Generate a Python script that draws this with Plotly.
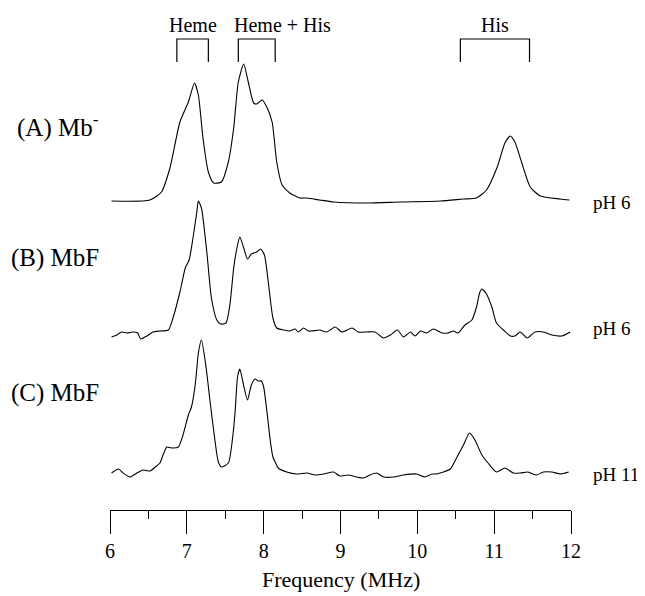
import plotly.graph_objects as go

# ---------------- data (frequency in MHz, intensity in arbitrary units) ----------------
freq_a = [6.02, 6.52, 6.67, 6.78, 6.91, 7.02, 7.10, 7.15, 7.21, 7.28, 7.35, 7.45, 7.54, 7.61,
          7.67, 7.74, 7.80, 7.87, 7.91, 7.98, 8.04, 8.11, 8.17, 8.24, 8.34, 8.47, 8.56, 8.73,
          8.91, 9.34, 9.78, 10.30, 10.60, 10.77, 10.90, 11.04, 11.14, 11.21, 11.27, 11.36,
          11.47, 11.60, 11.86, 11.98]
int_a = [0.00, 0.01, 0.09, 0.33, 0.79, 0.99, 1.18, 1.06, 0.63, 0.29, 0.18, 0.19, 0.39, 0.73,
         1.19, 1.37, 1.19, 0.98, 0.97, 1.01, 0.94, 0.79, 0.39, 0.16, 0.08, 0.03, 0.03, 0.01,
         -0.01, -0.02, -0.01, 0.00, 0.02, 0.03, 0.11, 0.34, 0.58, 0.65, 0.59, 0.38,
         0.14, 0.05, 0.02, 0.01]

freq_b = [6.02, 6.09, 6.15, 6.22, 6.30, 6.36, 6.40, 6.48, 6.56, 6.65, 6.76, 6.82, 6.91, 6.98,
          7.03, 7.08, 7.13, 7.15, 7.19, 7.26, 7.32, 7.39, 7.44, 7.51, 7.56, 7.61, 7.66, 7.69,
          7.74, 7.79, 7.84, 7.91, 7.96, 8.01, 8.06, 8.12, 8.17, 8.26, 8.34, 8.41, 8.45, 8.52,
          8.58, 8.63, 8.73, 8.82, 8.93, 9.02, 9.15, 9.23, 9.34, 9.45, 9.56, 9.65, 9.74, 9.82,
          9.91, 9.97, 10.04, 10.12, 10.21, 10.32, 10.40, 10.47, 10.53, 10.62, 10.71, 10.77,
          10.81, 10.84, 10.87, 10.90, 10.97, 11.03, 11.12, 11.21, 11.27, 11.34, 11.43, 11.53,
          11.64, 11.75, 11.88, 11.99]
int_b = [-0.04, -0.02, 0.01, 0.00, 0.01, 0.00, -0.06, -0.03, 0.01, 0.02, 0.03, 0.15, 0.41, 0.65,
         0.73, 0.95, 1.21, 1.32, 1.25, 0.81, 0.35, 0.13, 0.09, 0.10, 0.28, 0.65, 0.88, 0.96,
         0.85, 0.74, 0.79, 0.81, 0.84, 0.78, 0.51, 0.15, 0.05, 0.03, 0.02, 0.04, 0.01, 0.05,
         0.02, 0.02, 0.03, 0.01, 0.06, 0.01, 0.05, 0.01, 0.01, 0.01, -0.05, -0.02, 0.03, -0.04,
         0.01, -0.03, 0.02, 0.00, 0.04, 0.00, 0.00, 0.02, 0.00, 0.08, 0.13, 0.26,
         0.40, 0.44, 0.42, 0.39, 0.26, 0.10, 0.03, -0.03, -0.03, 0.01, -0.05, 0.01,
         0.01, -0.02, -0.03, 0.01]

freq_c = [6.02, 6.11, 6.17, 6.26, 6.35, 6.43, 6.52, 6.59, 6.65, 6.69, 6.74, 6.80, 6.89, 6.95,
          7.02, 7.06, 7.10, 7.12, 7.15, 7.19, 7.25, 7.30, 7.37, 7.41, 7.45, 7.54, 7.60, 7.63,
          7.66, 7.69, 7.73, 7.79, 7.84, 7.89, 7.93, 7.97, 8.00, 8.04, 8.09, 8.12, 8.15, 8.19,
          8.30, 8.43, 8.56, 8.67, 8.78, 8.91, 8.99, 9.10, 9.21, 9.30, 9.38, 9.47, 9.56, 9.69,
          9.82, 9.99, 10.10, 10.19, 10.25, 10.34, 10.43, 10.51, 10.60, 10.68, 10.75, 10.84,
          10.92, 11.03, 11.14, 11.25, 11.34, 11.44, 11.55, 11.64, 11.75, 11.86, 11.97]
int_c = [0.02, 0.06, 0.02, -0.02, 0.02, 0.05, 0.04, 0.08, 0.12, 0.20, 0.28, 0.27, 0.28, 0.40,
         0.60, 0.68, 0.85, 0.98, 1.22, 1.35, 1.08, 0.75, 0.32, 0.13, 0.08, 0.12, 0.40, 0.65,
         0.98, 1.06, 0.93, 0.75, 0.90, 0.96, 0.94, 0.94, 0.88, 0.65, 0.32, 0.18, 0.13, 0.07,
         0.03, 0.01, 0.02, 0.00, 0.01, 0.03, -0.01, 0.00, -0.02, -0.03, 0.00, 0.02, -0.02, -0.02,
         0.00, 0.01, -0.02, 0.01, 0.01, 0.03, 0.06, 0.17, 0.30, 0.42, 0.35, 0.20,
         0.12, 0.03, 0.07, 0.02, 0.02, 0.03, 0.00, 0.03, 0.03, 0.01, 0.03]

sample_labels = ["(A) Mb<sup>-</sup>", "(B) MbF", "(C) MbF"]
ph_labels = ["pH 6", "pH 6", "pH 11"]
region_names = ["Heme", "Heme + His", "His"]
region_ranges = [(6.87, 7.28), (7.67, 8.15), (10.56, 11.46)]
x_ticks = [6, 7, 8, 9, 10, 11, 12]
x_title = "Frequency (MHz)"

# ---------------- layout constants ----------------
offsets = [3.09, 1.77, 0.35]          # vertical stacking of the spectra
label_y = [3.85, 2.52, 1.17]
ph_y = [3.08, 1.82, 0.36]
region_label_x = [7.08, 8.25, 11.01]
FONT = "Liberation Serif, Times New Roman, serif"
PAGE_PAD = 8                           # default body margin of the html page

fig = go.Figure()
for fx, iy, off in zip([freq_a, freq_b, freq_c], [int_a, int_b, int_c], offsets):
    fig.add_trace(go.Scatter(
        x=fx, y=[v + off for v in iy], mode="lines",
        line=dict(color="black", width=1.1, shape="spline", smoothing=0.6),
        showlegend=False, hoverinfo="skip"))

annotations = []
for txt, y in zip(sample_labels, label_y):
    annotations.append(dict(x=-0.0195, y=y, xref="paper", yref="y", text=txt, showarrow=False,
                            xanchor="right", yanchor="middle",
                            font=dict(family=FONT, size=25, color="black")))
for txt, y in zip(ph_labels, ph_y):
    annotations.append(dict(x=1.043, y=y, xref="paper", yref="y", text=txt, showarrow=False,
                            xanchor="left", yanchor="middle",
                            font=dict(family=FONT, size=19, color="black")))

shapes = []
for name, (x0, x1), lx in zip(region_names, region_ranges, region_label_x):
    shapes.append(dict(type="path", xref="x", yref="y",
                       path=f"M {x0},4.48 L {x0},4.71 L {x1},4.71 L {x1},4.48",
                       line=dict(color="black", width=1.2)))
    annotations.append(dict(x=lx, y=4.85, xref="x", yref="y", text=name,
                            showarrow=False, xanchor="center", yanchor="middle",
                            font=dict(family=FONT, size=20, color="black")))

annotations.append(dict(x=0.5, y=-0.139, xref="paper", yref="paper", text=x_title,
                        showarrow=False, xanchor="center", yanchor="middle",
                        font=dict(family=FONT, size=22, color="black")))

fig.update_layout(
    width=645 - PAGE_PAD, height=596 - PAGE_PAD,
    margin=dict(l=110 - PAGE_PAD, r=74, t=0, b=86),
    paper_bgcolor="white", plot_bgcolor="white",
    annotations=annotations, shapes=shapes,
    xaxis=dict(range=[6, 12], tickvals=x_ticks, ticktext=[str(t) for t in x_ticks],
               showline=True, linecolor="black", linewidth=1.2,
               ticks="outside", ticklen=23, tickwidth=1.2, tickcolor="black",
               showgrid=False, zeroline=False, ticklabelstandoff=0,
               tickfont=dict(family=FONT, size=20, color="black"),
               minor=dict(dtick=0.5, tick0=6, ticks="outside", ticklen=8, tickwidth=1.2,
                          tickcolor="black", showgrid=False)),
    yaxis=dict(range=[0, 5.02], visible=False),
)

fig.write_html("out.html")
